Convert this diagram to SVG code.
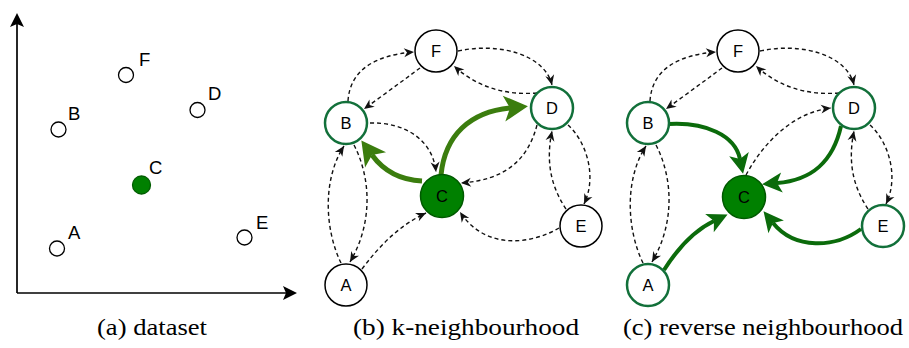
<svg xmlns="http://www.w3.org/2000/svg" width="909" height="348" viewBox="0 0 909 348">
<style>
.pt{fill:#fff;stroke:#000;stroke-width:1.3}
.ptc{fill:#008000;stroke:#005c00;stroke-width:1.3}
.lbl{font-family:"Liberation Sans",Arimo,Arial,Helvetica,sans-serif;font-size:18.5px;fill:#000}
.n{fill:#fff;stroke:#000;stroke-width:1.5}
.ng{fill:#fff;stroke:#12703a;stroke-width:2.5}
.nc{fill:#008000;stroke:#005a00;stroke-width:1.5}
.nt{font-family:"Liberation Sans",Arimo,Arial,Helvetica,sans-serif;font-size:16.5px;text-anchor:middle;fill:#000}
.d{fill:none;stroke:#111;stroke-width:1.4;stroke-dasharray:4 3;marker-end:url(#sa)}
.tb{fill:none;stroke:#3b7d0e;stroke-width:5;marker-end:url(#ab)}
.tc{fill:none;stroke:#0b6b0b;stroke-width:4;marker-end:url(#ac)}
.cap{font-family:"Liberation Serif",Tinos,"Times New Roman",serif;font-size:23px;fill:#000;text-anchor:middle}
.ax{fill:none;stroke:#000;stroke-width:1.7;marker-end:url(#axa)}
</style>
<defs>
<marker id="sa" markerUnits="userSpaceOnUse" markerWidth="12" markerHeight="12" viewBox="0 -6 12 12" refX="10" refY="0" orient="auto" overflow="visible"><path d="M0,-4.5 L10,0 L0,4.5 L3,0 Z" fill="#111"/></marker>
<marker id="ab" markerUnits="userSpaceOnUse" markerWidth="26" markerHeight="28" viewBox="0 -14 26 28" refX="6" refY="0" orient="auto" overflow="visible"><path d="M0,-13 L24,0 L0,13 L6,0 Z" fill="#3b7d0e"/></marker>
<marker id="ac" markerUnits="userSpaceOnUse" markerWidth="22" markerHeight="22" viewBox="0 -11 22 22" refX="5" refY="0" orient="auto" overflow="visible"><path d="M0,-10 L20,0 L0,10 L5,0 Z" fill="#0b6b0b"/></marker>
<marker id="axa" markerUnits="userSpaceOnUse" markerWidth="15" markerHeight="16" viewBox="0 -8 15 16" refX="3" refY="0" orient="auto" overflow="visible"><path d="M0,-7 L14,0 L0,7 L3,0 Z" fill="#000"/></marker>
</defs>

<!-- Panel (a) -->
<g id="panel-a">
  <g id="a-axes">
    <path class="ax" d="M17,293 L17,24"/>
    <path class="ax" d="M17,293 L286,293"/>
  </g>
  <g id="a-F"><circle class="pt" cx="126" cy="75" r="7.5"/><text class="lbl" x="139" y="66">F</text></g>
  <g id="a-B"><circle class="pt" cx="58.5" cy="129.5" r="7.5"/><text class="lbl" x="68" y="120">B</text></g>
  <g id="a-D"><circle class="pt" cx="197.5" cy="110" r="7.5"/><text class="lbl" x="208" y="100">D</text></g>
  <g id="a-C"><circle class="ptc" cx="141.5" cy="185" r="9"/><text class="lbl" x="149" y="174">C</text></g>
  <g id="a-A"><circle class="pt" cx="57" cy="248.5" r="7.5"/><text class="lbl" x="68" y="239">A</text></g>
  <g id="a-E"><circle class="pt" cx="244.5" cy="237.5" r="7.5"/><text class="lbl" x="256" y="229">E</text></g>
  <text class="cap" x="152" y="335" textLength="110" lengthAdjust="spacingAndGlyphs">(a) dataset</text>
</g>

<!-- Panel (b) -->
<g id="panel-b">
  <g id="b-connectors">
    <path class="d" d="M348,101 C350,70 375,55 414,52"/>
    <path class="d" d="M420,68 Q393,88 364,109"/>
    <path class="d" d="M458,51 C500,42 545,55 552,85"/>
    <path class="d" d="M537,93 C510,95 480,90 454,66"/>
    <path class="d" d="M370,123 C405,122 433,140 436,172"/>
    <path class="d" d="M537,125 C528,160 505,180 461,183"/>
    <path class="d" d="M566,209 C550,185 546,160 552,131"/>
    <path class="d" d="M568,125 C585,140 598,175 584,204"/>
    <path class="d" d="M559,228 C530,245 485,250 460,212"/>
    <path class="d" d="M362,269 C380,245 400,225 426,213"/>
    <path class="d" d="M341,263 C325,230 322,180 344,146"/>
    <path class="d" d="M354,145 C372,180 372,225 350,262"/>
    <path class="tb" d="M422,181 C400,180 383,170 372,155"/>
    <path class="tb" d="M441,175 C445,135 470,112 510,108"/>
  </g>
  <g id="b-F"><circle class="n" cx="436" cy="51" r="21"/><text class="nt" x="436" y="57">F</text></g>
  <g id="b-B"><circle class="ng" cx="346" cy="123" r="21"/><text class="nt" x="346" y="129">B</text></g>
  <g id="b-D"><circle class="ng" cx="552" cy="108" r="21"/><text class="nt" x="552" y="114">D</text></g>
  <g id="b-C"><circle class="nc" cx="442" cy="196" r="21.5"/><text class="nt" x="442" y="202">C</text></g>
  <g id="b-E"><circle class="n" cx="581" cy="226" r="21"/><text class="nt" x="581" y="232">E</text></g>
  <g id="b-A"><circle class="n" cx="346" cy="285" r="21"/><text class="nt" x="346" y="291">A</text></g>
  <text class="cap" x="466" y="335" textLength="226" lengthAdjust="spacingAndGlyphs">(b) k-neighbourhood</text>
</g>

<!-- Panel (c) -->
<g id="panel-c">
  <g id="c-connectors">
    <g transform="translate(302,0)">
      <path class="d" d="M348,101 C350,70 375,55 414,52"/>
      <path class="d" d="M420,68 Q393,88 364,109"/>
      <path class="d" d="M458,51 C500,42 545,55 552,85"/>
      <path class="d" d="M537,93 C510,95 480,90 454,66"/>
      <path class="d" d="M566,209 C550,185 546,160 552,131"/>
      <path class="d" d="M568,125 C585,140 598,175 584,204"/>
      <path class="d" d="M341,263 C325,230 322,180 344,146"/>
      <path class="d" d="M354,145 C372,180 372,225 350,262"/>
    </g>
    <path class="d" d="M746,175 C765,140 795,112 831,108"/>
    <path class="tc" d="M669,124 C705,122 735,135 740,159"/>
    <path class="tc" d="M841,126 C833,162 812,180 777,183"/>
    <path class="tc" d="M861,229 C835,248 795,250 773,223"/>
    <path class="tc" d="M664,270 C678,248 695,230 714,221"/>
  </g>
  <g id="c-F"><circle class="n" cx="738" cy="51" r="21"/><text class="nt" x="738" y="57">F</text></g>
  <g id="c-B"><circle class="ng" cx="648" cy="123" r="21"/><text class="nt" x="648" y="129">B</text></g>
  <g id="c-D"><circle class="ng" cx="854" cy="108" r="21"/><text class="nt" x="854" y="114">D</text></g>
  <g id="c-C"><circle class="nc" cx="744" cy="197" r="21.5"/><text class="nt" x="744" y="203">C</text></g>
  <g id="c-E"><circle class="ng" cx="883" cy="226" r="21"/><text class="nt" x="883" y="232">E</text></g>
  <g id="c-A"><circle class="ng" cx="648" cy="285" r="21"/><text class="nt" x="648" y="291">A</text></g>
  <text class="cap" x="763" y="335" textLength="280" lengthAdjust="spacingAndGlyphs">(c) reverse neighbourhood</text>
</g>
</svg>
